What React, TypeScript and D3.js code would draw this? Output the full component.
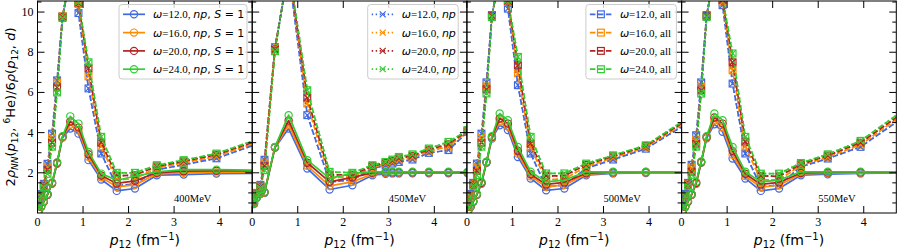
import React, { useRef, useEffect } from 'react';
import * as d3 from 'd3';

// omega values, colours, panel energies
const omegas = ['12.0', '16.0', '20.0', '24.0'];
const colors = ['#4169e1', '#ff8c00', '#b22222', '#32cd32'];
const energies = ['400MeV', '450MeV', '500MeV', '550MeV'];
const xTicks = [0, 1, 2, 3, 4];
const yTicks = [2, 4, 6, 8, 10];

// momentum grids (fm^-1)
const gridA = [0.03, 0.08, 0.14, 0.22, 0.32, 0.43, 0.55, 0.72, 0.9, 1.12, 1.4, 1.74, 2.14, 2.62, 3.21, 3.93, 4.9];
const gridB = [0.04, 0.1, 0.18, 0.27, 0.5, 0.8, 1.21, 1.7, 2.2, 2.64, 2.93, 3.08, 3.22, 3.52, 3.88, 4.31, 4.73];

// 400 MeV
const all400_w12 = [0.45, 0.95, 1.45, 2.45, 3.95, 6.6, 9.8, 11.6, 9.95, 6.2, 2.96, 1.35, 1.45, 2.15, 2.4, 2.72, 3.5];
const all400_w16 = [0.42, 0.9, 1.4, 2.3, 3.75, 6.5, 9.8, 11.8, 10.4, 6.8, 3.3, 1.65, 1.7, 2.25, 2.5, 2.82, 3.58];
const all400_w20 = [0.4, 0.88, 1.35, 2.15, 3.5, 6.25, 9.75, 11.9, 10.45, 7.2, 3.5, 1.85, 1.88, 2.32, 2.57, 2.9, 3.65];
const all400_w24 = [0.38, 0.85, 1.3, 1.95, 3.3, 6.0, 9.7, 12.0, 10.5, 7.5, 3.79, 2.0, 2.0, 2.38, 2.63, 2.96, 3.72];
const s1_400_w12 = [0.12, 0.3, 0.55, 0.9, 1.45, 2.45, 3.75, 4.2, 3.95, 2.63, 1.67, 1.1, 1.22, 1.88, 1.91, 1.96, 1.98];
const s1_400_w16 = [0.13, 0.31, 0.57, 0.92, 1.48, 2.48, 3.78, 4.4, 4.1, 2.8, 1.78, 1.3, 1.4, 1.95, 2.0, 2.02, 2.03];
const s1_400_w20 = [0.14, 0.32, 0.58, 0.93, 1.5, 2.5, 3.8, 4.55, 4.25, 2.92, 1.87, 1.47, 1.6, 2.0, 2.08, 2.1, 2.1];
const s1_400_w24 = [0.15, 0.33, 0.6, 0.95, 1.52, 2.52, 3.82, 4.81, 4.45, 3.04, 1.96, 1.63, 1.83, 2.05, 2.16, 2.16, 2.13];

// 450 MeV
const all450_w12 = [0.6, 1.0, 1.4, 2.65, 8.25, 12.0, 4.87, 1.55, 1.65, 2.21, 2.38, 2.46, 2.54, 2.66, 2.99, 3.13, 4.04];
const all450_w16 = [0.57, 0.97, 1.35, 2.5, 8.2, 12.1, 5.45, 1.75, 1.8, 2.28, 2.45, 2.55, 2.64, 2.76, 3.08, 3.3, 4.07];
const all450_w20 = [0.55, 0.95, 1.3, 2.35, 8.15, 12.2, 5.73, 1.9, 1.9, 2.33, 2.5, 2.6, 2.72, 2.85, 3.15, 3.42, 4.1];
const all450_w24 = [0.52, 0.92, 1.25, 2.13, 8.05, 12.3, 6.11, 2.05, 2.0, 2.38, 2.54, 2.66, 2.79, 2.92, 3.21, 3.54, 4.12];
const s1_450_w12 = [0.45, 0.75, 0.95, 1.0, 3.25, 4.2, 2.21, 1.17, 1.38, 1.88, 1.95, 1.97, 1.97, 1.98, 1.98, 1.98, 1.98];
const s1_450_w16 = [0.47, 0.77, 0.97, 1.02, 3.27, 4.4, 2.35, 1.35, 1.55, 1.94, 2.0, 2.01, 2.01, 2.01, 2.01, 2.01, 2.01];
const s1_450_w20 = [0.49, 0.79, 0.99, 1.04, 3.28, 4.6, 2.5, 1.55, 1.77, 2.0, 2.03, 2.03, 2.03, 2.03, 2.03, 2.03, 2.03];
const s1_450_w24 = [0.5, 0.8, 1.0, 1.05, 3.29, 4.87, 2.63, 1.72, 1.97, 2.05, 2.05, 2.05, 2.05, 2.05, 2.05, 2.05, 2.05];

// 500 MeV
const all500_w12 = [0.45, 0.95, 1.5, 2.46, 3.95, 6.5, 9.85, 11.7, 10.17, 6.36, 2.96, 1.3, 1.4, 2.22, 2.66, 3.2, 4.55];
const all500_w16 = [0.42, 0.9, 1.45, 2.3, 3.75, 6.3, 9.8, 11.8, 10.5, 6.95, 3.25, 1.65, 1.7, 2.3, 2.75, 3.27, 4.65];
const all500_w20 = [0.4, 0.88, 1.4, 2.1, 3.5, 6.15, 9.8, 11.9, 10.55, 7.35, 3.45, 1.85, 1.85, 2.4, 2.82, 3.33, 4.72];
const all500_w24 = [0.38, 0.85, 1.35, 1.88, 3.3, 5.95, 9.75, 12.0, 10.6, 7.77, 3.79, 1.97, 1.97, 2.46, 2.87, 3.37, 4.8];
const s1_500_w12 = [0.12, 0.3, 0.55, 0.9, 1.45, 2.5, 3.7, 4.37, 4.13, 2.79, 1.72, 1.13, 1.22, 1.88, 1.97, 1.99, 2.0];
const s1_500_w16 = [0.13, 0.31, 0.57, 0.92, 1.48, 2.52, 3.75, 4.55, 4.3, 2.95, 1.83, 1.3, 1.4, 1.93, 2.0, 2.02, 2.03];
const s1_500_w20 = [0.14, 0.32, 0.58, 0.93, 1.5, 2.54, 3.78, 4.7, 4.45, 3.1, 1.93, 1.42, 1.52, 1.98, 2.03, 2.04, 2.05];
const s1_500_w24 = [0.15, 0.33, 0.6, 0.95, 1.55, 2.55, 3.82, 4.95, 4.62, 3.29, 2.05, 1.55, 1.64, 2.05, 2.05, 2.05, 2.05];

// 550 MeV
const all550_w12 = [0.45, 0.95, 1.5, 2.4, 3.87, 6.5, 9.85, 11.8, 10.34, 6.44, 2.96, 1.3, 1.4, 2.3, 2.71, 3.29, 4.81];
const all550_w16 = [0.42, 0.9, 1.45, 2.25, 3.65, 6.3, 9.8, 11.9, 10.5, 7.1, 3.3, 1.65, 1.65, 2.37, 2.78, 3.4, 4.95];
const all550_w20 = [0.4, 0.88, 1.4, 2.05, 3.45, 6.1, 9.8, 12.0, 10.6, 7.5, 3.55, 1.85, 1.82, 2.43, 2.86, 3.5, 5.05];
const all550_w24 = [0.38, 0.85, 1.35, 1.9, 3.3, 5.94, 9.75, 12.1, 10.7, 7.94, 3.79, 1.96, 1.96, 2.49, 2.92, 3.59, 5.16];
const s1_550_w12 = [0.12, 0.3, 0.55, 0.9, 1.45, 2.5, 3.72, 4.42, 4.04, 2.71, 1.72, 1.1, 1.22, 1.88, 1.93, 1.97, 2.0];
const s1_550_w16 = [0.13, 0.31, 0.57, 0.92, 1.48, 2.52, 3.76, 4.6, 4.25, 2.9, 1.84, 1.28, 1.38, 1.94, 1.98, 2.0, 2.02];
const s1_550_w20 = [0.14, 0.32, 0.58, 0.93, 1.5, 2.54, 3.79, 4.75, 4.45, 3.08, 1.95, 1.42, 1.52, 1.99, 2.02, 2.03, 2.04];
const s1_550_w24 = [0.15, 0.33, 0.6, 0.95, 1.55, 2.56, 3.82, 4.95, 4.62, 3.29, 2.05, 1.55, 1.64, 2.05, 2.05, 2.05, 2.05];

type Kind = 's1' | 'np' | 'all';

const panels: { grid: number[]; all: number[][]; s1: number[][]; legend: Kind | null; legendX: number; legendW: number }[] = [
  { grid: gridA, all: [all400_w12, all400_w16, all400_w20, all400_w24], s1: [s1_400_w12, s1_400_w16, s1_400_w20, s1_400_w24], legend: 's1', legendX: 81.5, legendW: 128 },
  { grid: gridB, all: [all450_w12, all450_w16, all450_w20, all450_w24], s1: [s1_450_w12, s1_450_w16, s1_450_w20, s1_450_w24], legend: 'np', legendX: 115.5, legendW: 90.5 },
  { grid: gridA, all: [all500_w12, all500_w16, all500_w20, all500_w24], s1: [s1_500_w12, s1_500_w16, s1_500_w20, s1_500_w24], legend: 'all', legendX: 119, legendW: 90.5 },
  { grid: gridA, all: [all550_w12, all550_w16, all550_w20, all550_w24], s1: [s1_550_w12, s1_550_w16, s1_550_w20, s1_550_w24], legend: null, legendX: 0, legendW: 0 },
];

const W = 897;
const H = 250;
const plotLeft = 37.5;
const panelW = 214.7;
const plotTop = 1;
const plotBottom = 213;
const serif = '"Liberation Serif", "DejaVu Serif", serif';
const sans = '"DejaVu Sans", sans-serif';

const lineStyle: Record<Kind, string | null> = { s1: null, np: '1.4,2.6', all: '5.5,2.5' };

function drawMarker(g: d3.Selection<SVGGElement, unknown, null, undefined>, kind: Kind, cx: number, cy: number, color: string) {
  if (kind === 's1') {
    g.append('circle').attr('cx', cx).attr('cy', cy).attr('r', 3.6)
      .attr('fill', 'none').attr('stroke', color).attr('stroke-width', 1.2);
  } else if (kind === 'all') {
    g.append('rect').attr('x', cx - 3.4).attr('y', cy - 3.4).attr('width', 6.8).attr('height', 6.8)
      .attr('fill', 'none').attr('stroke', color).attr('stroke-width', 1.2);
  } else {
    const s = 3;
    g.append('path').attr('d', `M${cx - s},${cy - s}L${cx + s},${cy + s}M${cx - s},${cy + s}L${cx + s},${cy - s}`)
      .attr('stroke', color).attr('stroke-width', 1.2).attr('fill', 'none');
  }
}

export default function App() {
  const svgRef = useRef<SVGSVGElement>(null);

  useEffect(() => {
    if (!svgRef.current) return;
    const svg = d3.select(svgRef.current);
    svg.selectAll('*').remove();

    const y = d3.scaleLinear().domain([0, 10.55]).range([plotBottom, plotTop]);
    const yMinor = d3.range(0.5, 10.55, 0.5).filter(v => v % 2 !== 0);

    panels.forEach((p, i) => {
      const x0 = plotLeft + i * panelW;
      const x = d3.scaleLinear().domain([0, 4.715]).range([x0, x0 + panelW]);
      const clipId = `clip-${i}`;
      svg.append('clipPath').attr('id', clipId).append('rect')
        .attr('x', x0).attr('y', plotTop).attr('width', panelW).attr('height', plotBottom - plotTop);

      const g = svg.append('g').attr('clip-path', `url(#${clipId})`);
      const line = d3.line<[number, number]>().x(d => x(d[0])).y(d => y(d[1]));

      // dashed "all", dotted "np", solid "S=1"
      const layers: { kind: Kind; series: number[][] }[] = [
        { kind: 'all', series: p.all },
        { kind: 'np', series: p.all },
        { kind: 's1', series: p.s1 },
      ];
      layers.forEach(layer => {
        layer.series.forEach((vals, k) => {
          const pts = p.grid.map((gx, j) => [gx, vals[j]] as [number, number]);
          g.append('path')
            .attr('d', line(pts))
            .attr('fill', 'none')
            .attr('stroke', colors[k])
            .attr('stroke-width', 1.7)
            .attr('stroke-dasharray', lineStyle[layer.kind])
            .attr('stroke-linejoin', 'round');
          const mg = g.append('g');
          pts.forEach(pt => drawMarker(mg, layer.kind, x(pt[0]), y(pt[1]), colors[k]));
        });
      });

      // frame
      svg.append('rect').attr('x', x0).attr('y', plotTop).attr('width', panelW).attr('height', plotBottom - plotTop)
        .attr('fill', 'none').attr('stroke', '#000').attr('stroke-width', 1);

      // ticks, pointing in
      const ax = svg.append('g').attr('stroke', '#000').attr('stroke-width', 1);
      xTicks.forEach(t => {
        ax.append('line').attr('x1', x(t)).attr('x2', x(t)).attr('y1', plotBottom).attr('y2', plotBottom - 7);
        ax.append('line').attr('x1', x(t)).attr('x2', x(t)).attr('y1', plotTop).attr('y2', plotTop + 7);
      });
      yTicks.forEach(t => {
        ax.append('line').attr('x1', x0).attr('x2', x0 + 7).attr('y1', y(t)).attr('y2', y(t));
        ax.append('line').attr('x1', x0 + panelW).attr('x2', x0 + panelW - 7).attr('y1', y(t)).attr('y2', y(t));
      });
      yMinor.forEach(t => {
        ax.append('line').attr('x1', x0).attr('x2', x0 + 4).attr('y1', y(t)).attr('y2', y(t));
        ax.append('line').attr('x1', x0 + panelW).attr('x2', x0 + panelW - 4).attr('y1', y(t)).attr('y2', y(t));
      });

      // tick labels
      xTicks.forEach(t => {
        svg.append('text').attr('x', x(t)).attr('y', 226).attr('text-anchor', 'middle')
          .style('font-family', serif).style('font-size', '12px').text(String(t));
      });
      if (i === 0) {
        yTicks.forEach(t => {
          svg.append('text').attr('x', x0 - 4).attr('y', y(t) + 4).attr('text-anchor', 'end')
            .style('font-family', serif).style('font-size', '12px').text(String(t));
        });
      }

      // x label
      const xl = svg.append('text').attr('x', x0 + panelW / 2).attr('y', 245).attr('text-anchor', 'middle')
        .style('font-family', sans).style('font-size', '14px');
      xl.append('tspan').style('font-style', 'italic').text('p');
      xl.append('tspan').attr('dy', 3).style('font-size', '10px').text('12');
      xl.append('tspan').attr('dy', -3).text(' (fm');
      xl.append('tspan').attr('dy', -5).style('font-size', '10px').text('−1');
      xl.append('tspan').attr('dy', 5).text(')');

      // energy label
      svg.append('text').attr('x', x(3.0)).attr('y', y(0.55)).style('font-family', serif).style('font-size', '10.5px')
        .text(energies[i]);

      // legend
      if (p.legend) {
        const lx = x0 + p.legendX;
        const lg = svg.append('g');
        lg.append('rect').attr('x', lx).attr('y', 4.5).attr('width', p.legendW).attr('height', 74.5).attr('rx', 3)
          .attr('fill', '#fff').attr('fill-opacity', 0.8).attr('stroke', '#cccccc').attr('stroke-width', 1);
        omegas.forEach((om, k) => {
          const ry = 14.3 + k * 18.3;
          const hx = lx + 4;
          lg.append('line').attr('x1', hx).attr('x2', hx + 22).attr('y1', ry).attr('y2', ry)
            .attr('stroke', colors[k]).attr('stroke-width', 1.7).attr('stroke-dasharray', lineStyle[p.legend as Kind]);
          const mg = lg.append('g');
          drawMarker(mg, p.legend as Kind, hx + 11, ry, colors[k]);
          const t = lg.append('text').attr('x', hx + 30).attr('y', ry + 4).style('font-size', '11px').style('font-family', serif);
          t.append('tspan').style('font-family', sans).style('font-style', 'italic').text('ω');
          if (p.legend === 'all') {
            t.append('tspan').text(`=${om}, all`);
          } else {
            t.append('tspan').text(`=${om}, `);
            t.append('tspan').style('font-family', sans).style('font-style', 'italic').text('np');
            if (p.legend === 's1') {
              t.append('tspan').style('font-family', sans).text(', ');
              t.append('tspan').style('font-family', sans).style('font-style', 'italic').text('S');
              t.append('tspan').style('font-family', sans).text(' = 1');
            }
          }
        });
      }
    });

    // y label
    const yl = svg.append('text').attr('transform', `translate(15,${(plotTop + plotBottom) / 2}) rotate(-90)`)
      .attr('text-anchor', 'middle').style('font-family', sans).style('font-size', '13px');
    yl.append('tspan').text('2');
    yl.append('tspan').style('font-style', 'italic').text('ρ');
    yl.append('tspan').attr('dy', 3).style('font-size', '9px').style('font-style', 'italic').text('NN');
    yl.append('tspan').attr('dy', -3).text('(');
    yl.append('tspan').style('font-style', 'italic').text('p');
    yl.append('tspan').attr('dy', 3).style('font-size', '9px').text('12');
    yl.append('tspan').attr('dy', -3).text(', ');
    yl.append('tspan').attr('dy', -5).style('font-size', '9px').text('6');
    yl.append('tspan').attr('dy', 5).text('He)/6');
    yl.append('tspan').style('font-style', 'italic').text('ρ');
    yl.append('tspan').text('(');
    yl.append('tspan').style('font-style', 'italic').text('p');
    yl.append('tspan').attr('dy', 3).style('font-size', '9px').text('12');
    yl.append('tspan').attr('dy', -3).text(', ');
    yl.append('tspan').style('font-style', 'italic').text('d');
    yl.append('tspan').text(')');
  }, []);

  return (
    <svg
      ref={svgRef}
      width={W}
      height={H}
      style={{ position: 'absolute', left: 0, top: 0, background: '#fff' }}
    />
  );
}
